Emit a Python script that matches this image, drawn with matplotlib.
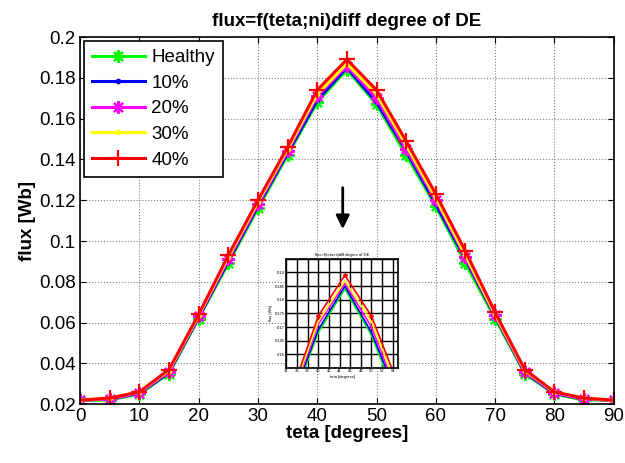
import matplotlib
matplotlib.use("Agg")
import matplotlib.pyplot as plt
import numpy as np

plt.rcParams['font.family'] = ['Liberation Sans', 'DejaVu Sans']

theta = [0, 5, 10, 15, 20, 25, 30, 35, 40, 45, 50, 55, 60, 65, 70, 75, 80, 85, 90]
healthy = [0.022, 0.022, 0.025, 0.035, 0.062, 0.089, 0.116, 0.142, 0.168, 0.184, 0.167, 0.142, 0.117, 0.089, 0.062, 0.035, 0.025, 0.022, 0.022]
de10 = [0.022, 0.0225, 0.0253, 0.0355, 0.0625, 0.090, 0.117, 0.143, 0.169, 0.185, 0.168, 0.144, 0.118, 0.091, 0.063, 0.0355, 0.0253, 0.0225, 0.022]
de20 = [0.022, 0.0225, 0.0255, 0.036, 0.063, 0.091, 0.118, 0.144, 0.171, 0.186, 0.170, 0.145, 0.120, 0.092, 0.0635, 0.036, 0.0255, 0.0225, 0.022]
de30 = [0.022, 0.023, 0.026, 0.0365, 0.0635, 0.092, 0.119, 0.145, 0.172, 0.187, 0.172, 0.147, 0.121, 0.093, 0.064, 0.0365, 0.026, 0.023, 0.022]
de40 = [0.022, 0.023, 0.026, 0.037, 0.064, 0.093, 0.120, 0.146, 0.174, 0.189, 0.174, 0.149, 0.123, 0.095, 0.065, 0.037, 0.026, 0.023, 0.022]

labels = ['Healthy', '10%', '20%', '30%', '40%']
series = [healthy, de10, de20, de30, de40]
colors = ['#00ff00', '#0000ff', '#ff00ff', '#ffff00', '#ff0000']
asterisk = (8, 2, 0)
markers = [asterisk, '.', asterisk, '.', '+']
msizes = [9, 5, 9, 5, 11]

xticks = [0, 10, 20, 30, 40, 50, 60, 70, 80, 90]
yticks = [0.02, 0.04, 0.06, 0.08, 0.1, 0.12, 0.14, 0.16, 0.18, 0.2]
ytick_labels = ['0.02', '0.04', '0.06', '0.08', '0.1', '0.12', '0.14', '0.16', '0.18', '0.2']

inset_xticks = [34, 36, 38, 40, 42, 44, 46, 48, 50, 52, 54]
inset_yticks = [0.155, 0.16, 0.165, 0.17, 0.175, 0.18, 0.185, 0.19, 0.195]
inset_ylabels = ['', '0.16', '0.165', '0.17', '0.175', '0.18', '0.185', '0.19', '']

fig = plt.figure(figsize=(6.25, 4.63), dpi=100)
ax = fig.add_axes([0.128, 0.127, 0.854, 0.793])

for s, lab, c, m, ms in zip(series, labels, colors, markers, msizes):
    ax.plot(theta, s, color=c, marker=m, markersize=ms, linewidth=2.2,
            markeredgewidth=1.6, label=lab)

ax.set_xlim(0, 90)
ax.set_ylim(0.02, 0.2)
ax.set_xticks(xticks)
ax.set_yticks(yticks)
ax.set_yticklabels(ytick_labels)
ax.tick_params(direction='in', labelsize=13.5, length=4, top=True, right=True, pad=3)
ax.grid(True, color='#808080', linestyle=':', linewidth=0.8)
for sp in ax.spines.values():
    sp.set_linewidth(1.2)
ax.set_title('flux=f(teta;ni)diff degree of DE', fontsize=13.5, fontweight='bold', pad=8)
ax.set_xlabel('teta [degrees]', fontsize=13.5, fontweight='bold', labelpad=0)
ax.set_ylabel('flux [Wb]', fontsize=13.5, fontweight='bold', labelpad=2)

leg = ax.legend(loc='upper left', fontsize=13.5, fancybox=False, framealpha=1,
                edgecolor='black', borderaxespad=0.2, handlelength=2.8,
                handletextpad=0.35, labelspacing=0.45, borderpad=0.45)
leg.get_frame().set_linewidth(1.2)

ax.annotate('', xy=(44.3, 0.1045), xytext=(44.3, 0.1275),
            arrowprops=dict(arrowstyle='-|>', color='black', lw=2,
                            mutation_scale=20))

ins = fig.add_axes([0.458, 0.205, 0.179, 0.236])
for s, c in zip(series, colors):
    ins.plot(theta, s, color=c, linewidth=1.2)
ins.plot(theta, de40, color='#ff0000', marker='*', markersize=3, linewidth=0)
ins.set_xlim(34, 55)
ins.set_ylim(0.155, 0.195)
ins.set_xticks(inset_xticks)
ins.set_yticks(inset_yticks)
ins.set_yticklabels(inset_ylabels)
ins.tick_params(direction='in', labelsize=3, length=1, pad=1)
ins.grid(True, color='black', linestyle='-', linewidth=1.0)
for sp in ins.spines.values():
    sp.set_linewidth(1.2)
ins.set_title('flux=f(teta;ni)diff degree of DE', fontsize=3, pad=2)
ins.set_xlabel('teta [degrees]', fontsize=3, labelpad=1)
ins.set_ylabel('flux [Wb]', fontsize=3, labelpad=1)

fig.savefig('out.png', dpi=100)
